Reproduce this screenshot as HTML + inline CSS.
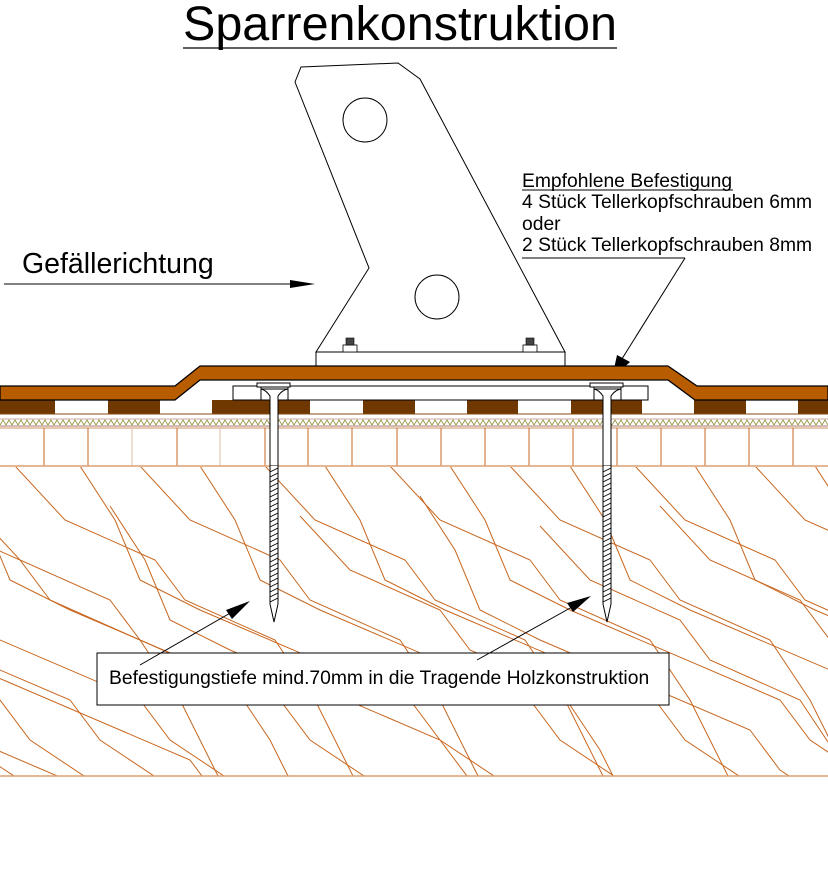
<!DOCTYPE html>
<html><head><meta charset="utf-8"><style>
html,body{margin:0;padding:0;background:#fff;width:828px;height:881px;overflow:hidden}
svg{display:block}
text{font-family:"Liberation Sans",sans-serif;fill:#000}
</style></head><body>
<svg width="828" height="881" viewBox="0 0 828 881" xmlns="http://www.w3.org/2000/svg">
<defs>
<clipPath id="wood"><rect x="0" y="467" width="828" height="309"/></clipPath>
<path id="g" d="M0,466 L35,520 L60,580 L120,610 L330,700 L360,740 L420,780" fill="none" stroke="#c8661e" stroke-width="1"/>
<path id="g2" d="M0,466 L50,520 L140,560 L170,600 L260,640 L300,700 L340,780" fill="none" stroke="#c8661e" stroke-width="1"/>
</defs>

<text x="400" y="40" font-size="48.5" text-anchor="middle">Sparrenkonstruktion</text>
<line x1="183" y1="48" x2="617" y2="48" stroke="#000" stroke-width="1.2"/>

<text x="22" y="273" font-size="28.5">Gefällerichtung</text>
<line x1="4" y1="284" x2="295" y2="284" stroke="#000" stroke-width="1"/>
<polygon points="315,284 290,280 290,288" fill="#000"/>

<text x="522" y="187" font-size="19.3">Empfohlene Befestigung</text>
<line x1="522" y1="190" x2="733" y2="190" stroke="#000"/>
<text x="522" y="208" font-size="19.3">4 Stück Tellerkopfschrauben 6mm</text>
<text x="522" y="230" font-size="19.3">oder</text>
<text x="522" y="251" font-size="19.3">2 Stück Tellerkopfschrauben 8mm</text>
<line x1="522" y1="258" x2="685" y2="258" stroke="#000"/>
<line x1="685" y1="258" x2="620" y2="362" stroke="#000"/>
<polygon points="612,378 617,355 630,362" fill="#000"/>

<polygon points="301,67 398,63 420,79 565,352 316,352 369,268 295,82" fill="#fff" stroke="#000" stroke-width="1"/>
<circle cx="365" cy="120" r="22" fill="#fff" stroke="#000"/>
<circle cx="437" cy="297" r="22" fill="#fff" stroke="#000"/>
<rect x="316" y="352" width="249" height="14" fill="#fff" stroke="#000"/>
<rect x="343" y="345" width="14" height="7" fill="#fff" stroke="#000" stroke-width=".8"/>
<rect x="346" y="338" width="8" height="7" fill="#444" stroke="#000" stroke-width=".6"/>
<rect x="523" y="345" width="14" height="7" fill="#fff" stroke="#000" stroke-width=".8"/>
<rect x="526" y="338" width="8" height="7" fill="#444" stroke="#000" stroke-width=".6"/>

<g fill="#6e3800">
<rect x="0" y="400" width="55" height="14"/>
<rect x="108" y="400" width="52" height="14"/>
<rect x="212" y="400" width="98" height="14"/>
<rect x="363" y="400" width="52" height="14"/>
<rect x="467" y="400" width="51" height="14"/>
<rect x="571" y="400" width="71" height="14"/>
<rect x="694" y="400" width="52" height="14"/>
<rect x="798" y="400" width="30" height="14"/>
</g>
<line x1="0" y1="414" x2="828" y2="414" stroke="#8a4a10" stroke-width="1"/>
<line x1="0" y1="419" x2="828" y2="419" stroke="#c8a8a0" stroke-width="1"/>
<polyline points="0,425 3,420 6,425 9,420 12,425 15,420 18,425 21,420 24,425 27,420 30,425 33,420 36,425 39,420 42,425 45,420 48,425 51,420 54,425 57,420 60,425 63,420 66,425 69,420 72,425 75,420 78,425 81,420 84,425 87,420 90,425 93,420 96,425 99,420 102,425 105,420 108,425 111,420 114,425 117,420 120,425 123,420 126,425 129,420 132,425 135,420 138,425 141,420 144,425 147,420 150,425 153,420 156,425 159,420 162,425 165,420 168,425 171,420 174,425 177,420 180,425 183,420 186,425 189,420 192,425 195,420 198,425 201,420 204,425 207,420 210,425 213,420 216,425 219,420 222,425 225,420 228,425 231,420 234,425 237,420 240,425 243,420 246,425 249,420 252,425 255,420 258,425 261,420 264,425 267,420 270,425 273,420 276,425 279,420 282,425 285,420 288,425 291,420 294,425 297,420 300,425 303,420 306,425 309,420 312,425 315,420 318,425 321,420 324,425 327,420 330,425 333,420 336,425 339,420 342,425 345,420 348,425 351,420 354,425 357,420 360,425 363,420 366,425 369,420 372,425 375,420 378,425 381,420 384,425 387,420 390,425 393,420 396,425 399,420 402,425 405,420 408,425 411,420 414,425 417,420 420,425 423,420 426,425 429,420 432,425 435,420 438,425 441,420 444,425 447,420 450,425 453,420 456,425 459,420 462,425 465,420 468,425 471,420 474,425 477,420 480,425 483,420 486,425 489,420 492,425 495,420 498,425 501,420 504,425 507,420 510,425 513,420 516,425 519,420 522,425 525,420 528,425 531,420 534,425 537,420 540,425 543,420 546,425 549,420 552,425 555,420 558,425 561,420 564,425 567,420 570,425 573,420 576,425 579,420 582,425 585,420 588,425 591,420 594,425 597,420 600,425 603,420 606,425 609,420 612,425 615,420 618,425 621,420 624,425 627,420 630,425 633,420 636,425 639,420 642,425 645,420 648,425 651,420 654,425 657,420 660,425 663,420 666,425 669,420 672,425 675,420 678,425 681,420 684,425 687,420 690,425 693,420 696,425 699,420 702,425 705,420 708,425 711,420 714,425 717,420 720,425 723,420 726,425 729,420 732,425 735,420 738,425 741,420 744,425 747,420 750,425 753,420 756,425 759,420 762,425 765,420 768,425 771,420 774,425 777,420 780,425 783,420 786,425 789,420 792,425 795,420 798,425 801,420 804,425 807,420 810,425 813,420 816,425 819,420 822,425 825,420 828,425" fill="none" stroke="#8a8a30" stroke-width=".8"/>
<line x1="0" y1="426" x2="828" y2="426" stroke="#c8a8a0" stroke-width="1.5"/>
<line x1="0" y1="428" x2="828" y2="428" stroke="#d09060" stroke-width="1"/>
<g stroke="#c8661e" stroke-width="1">
<line x1="44" y1="428" x2="44" y2="466"/><line x1="88" y1="428" x2="88" y2="466"/>
<line x1="132" y1="428" x2="132" y2="466" stroke="#e0b8a8"/><line x1="177" y1="428" x2="177" y2="466"/>
<line x1="220" y1="428" x2="220" y2="466" stroke="#e0b8a8"/><line x1="265" y1="428" x2="265" y2="466"/>
<line x1="308" y1="428" x2="308" y2="466"/><line x1="352" y1="428" x2="352" y2="466"/>
<line x1="397" y1="428" x2="397" y2="466"/><line x1="441" y1="428" x2="441" y2="466"/>
<line x1="485" y1="428" x2="485" y2="466"/><line x1="529" y1="428" x2="529" y2="466"/>
<line x1="573" y1="428" x2="573" y2="466"/><line x1="617" y1="428" x2="617" y2="466"/>
<line x1="661" y1="428" x2="661" y2="466"/><line x1="705" y1="428" x2="705" y2="466"/>
<line x1="749" y1="428" x2="749" y2="466"/><line x1="793" y1="428" x2="793" y2="466"/>
</g>
<line x1="0" y1="466" x2="828" y2="466" stroke="#dca070" stroke-width="1.5"/>

<g clip-path="url(#wood)">
<use href="#g" x="-400"/><use href="#g" x="-330"/><use href="#g" x="-260"/><use href="#g" x="-190"/>
<use href="#g2" x="-120"/><use href="#g" x="-50"/><use href="#g2" x="15"/><use href="#g" x="80"/>
<use href="#g2" x="140"/><use href="#g" x="200"/><use href="#g2" x="265"/><use href="#g" x="325"/>
<use href="#g2" x="390"/><use href="#g" x="450"/><use href="#g2" x="510"/><use href="#g" x="570"/>
<use href="#g2" x="635"/><use href="#g" x="695"/><use href="#g2" x="755"/><use href="#g" x="815"/>
<use href="#g2" x="-30" y="40"/><use href="#g" x="-140" y="60"/><use href="#g2" x="540" y="60"/>
<use href="#g" x="-240" y="90"/><use href="#g2" x="-340" y="120"/>
<use href="#g" x="110" y="40"/><use href="#g2" x="300" y="50"/><use href="#g" x="420" y="30"/>
<use href="#g2" x="660" y="40"/>
</g>
<line x1="0" y1="776" x2="828" y2="776" stroke="#dca070" stroke-width="1.5"/>

<polygon points="0,386 175,386 200,366 668,366 697,386 828,386 828,400 695,400 668,380 200,380 175,400 0,400" fill="#b85c00" stroke="#000" stroke-width="1.3"/>

<rect x="233" y="386" width="415" height="14" fill="#fff" stroke="#000" stroke-width="1"/>

<g stroke="#000" stroke-width="1" fill="#fff">
<rect x="257" y="383" width="33" height="4"/>
<rect x="261" y="387" width="27" height="13"/>
<path d="M270,466 L270,396 Q266,390 261,389 L288,389 Q282,390 278,396 L278,466 Z"/>
<path d="M270,466 L270,604 L274,622 L278,604 L278,466" fill="#fff"/>
<rect x="590" y="383" width="33" height="4"/>
<rect x="594" y="387" width="27" height="13"/>
<path d="M603,466 L603,396 Q599,390 594,389 L621,389 Q615,390 611,396 L611,466 Z"/>
<path d="M603,466 L603,604 L607,622 L611,604 L611,466" fill="#fff"/>
</g>
<g stroke="#000" stroke-width=".9">
<path d="M270,472 l8,-4 M270,477 l8,-4 M270,482 l8,-4 M270,487 l8,-4 M270,492 l8,-4 M270,497 l8,-4 M270,502 l8,-4 M270,507 l8,-4 M270,512 l8,-4 M270,517 l8,-4 M270,522 l8,-4 M270,527 l8,-4 M270,532 l8,-4 M270,537 l8,-4 M270,542 l8,-4 M270,547 l8,-4 M270,552 l8,-4 M270,557 l8,-4 M270,562 l8,-4 M270,567 l8,-4 M270,572 l8,-4 M270,577 l8,-4 M270,582 l8,-4 M270,587 l8,-4 M270,592 l8,-4 M270,597 l8,-4 M270,602 l8,-4"/>
<path d="M603,472 l8,-4 M603,477 l8,-4 M603,482 l8,-4 M603,487 l8,-4 M603,492 l8,-4 M603,497 l8,-4 M603,502 l8,-4 M603,507 l8,-4 M603,512 l8,-4 M603,517 l8,-4 M603,522 l8,-4 M603,527 l8,-4 M603,532 l8,-4 M603,537 l8,-4 M603,542 l8,-4 M603,547 l8,-4 M603,552 l8,-4 M603,557 l8,-4 M603,562 l8,-4 M603,567 l8,-4 M603,572 l8,-4 M603,577 l8,-4 M603,582 l8,-4 M603,587 l8,-4 M603,592 l8,-4 M603,597 l8,-4 M603,602 l8,-4"/>
</g>

<rect x="97" y="653" width="572" height="52" fill="#fff" stroke="#000" stroke-width="1"/>
<text x="109" y="684" font-size="19.3">Befestigungstiefe mind.70mm in die Tragende Holzkonstruktion</text>
<line x1="140" y1="665" x2="232" y2="612" stroke="#000"/>
<polygon points="250,601 226,610 232,619" fill="#000"/>
<line x1="477" y1="660" x2="572" y2="607" stroke="#000"/>
<polygon points="591,596 567,603 573,612" fill="#000"/>
</svg>
</body></html>
